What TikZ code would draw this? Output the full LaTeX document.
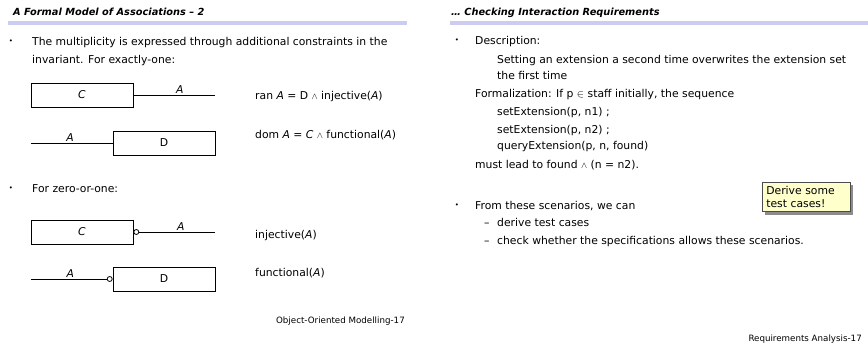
\documentclass[tikz,border=0pt]{standalone}
\usepackage{fontspec}
\setmainfont{DejaVu Sans}
\usepackage{amsmath}
\usetikzlibrary{positioning,shadows}

\definecolor{barlila}{RGB}{204,204,240}
\definecolor{noteyellow}{RGB}{255,255,204}

\tikzset{
  txt/.style={anchor=base west,inner sep=0pt,font=\fontsize{10.8}{13}\selectfont},
  ttl/.style={anchor=base west,inner sep=0pt,font=\fontsize{9.8}{12}\selectfont\bfseries\itshape},
  foot/.style={anchor=base east,inner sep=0pt,font=\fontsize{8.7}{10}\selectfont},
  bull/.style={inner sep=0pt,font=\fontsize{7}{7}\selectfont},
  cls/.style={draw,line width=0.8pt,minimum width=102pt,minimum height=24pt,inner sep=0pt,font=\fontsize{10.8}{13}\selectfont},
  opt/.style={draw,circle,line width=0.8pt,fill=white,minimum size=5pt,inner sep=0pt},
  assoc/.style={line width=0.8pt},
  role/.style={above,inner sep=1.5pt,font=\fontsize{10.8}{13}\selectfont\itshape},
  note/.style={draw=black!70,fill=noteyellow,line width=0.6pt,text width=80pt,align=left,
    inner sep=4pt,font=\fontsize{10.8}{13}\selectfont,
    drop shadow={shadow xshift=3pt,shadow yshift=-3pt,fill=black!45,opacity=1}}
}

\begin{document}
\begin{tikzpicture}[x=1pt,y=-1pt]
\useasboundingbox (0,0) rectangle (868,350);
\fill[white] (0,0) rectangle (868,350);
% left slide
\node[ttl] (ttlL) at (13,16) {A Formal Model of Associations -- 2};
\fill[barlila] (8,21) rectangle (407,25);
\node[bull] (b1) at (11,42) {\textbullet};
\node[txt] (p1) at (32,45.5) {The multiplicity is expressed through additional constraints in the};
\node[txt] (p1b) at (32,63.5) {invariant. For exactly-one:};
% exactly-one, C side
\node[cls] (C1) at (82,95) {\textit{C}};
\coordinate (e1) at (215,95);
\draw[assoc] (C1.east) -- (e1) node[role,pos=0.57] (r1) {A};
\node[txt] (f1) at (255,99.5) {ran \textit{A} = D {\small$\wedge$} injective(\textit{A})};
% exactly-one, D side
\node[cls] (D1) at (164,143) {D};
\coordinate (s2) at (31,143);
\draw[assoc] (s2) -- (D1.west) node[role,pos=0.48] (r2) {A};
\node[txt] (f2) at (255,138.5) {dom \textit{A} = \textit{C} {\small$\wedge$} functional(\textit{A})};
\node[bull] (b2) at (11,189) {\textbullet};
\node[txt] (p2) at (32,192.5) {For zero-or-one:};
% zero-or-one, C side
\node[cls] (C2) at (82,232) {\textit{C}};
\node[opt,right=0pt of C2.east] (o1) {};
\coordinate (e3) at (215,232);
\draw[assoc] (o1.east) -- (e3) node[role,pos=0.55] (r3) {A};
\node[txt] (f3) at (255,238.5) {injective(\textit{A})};
% zero-or-one, D side
\node[cls] (D2) at (164,279) {D};
\node[opt,left=0pt of D2.west] (o2) {};
\coordinate (s4) at (31,279);
\draw[assoc] (s4) -- (o2.west) node[role,pos=0.52] (r4) {A};
\node[txt] (f4) at (255,276.5) {functional(\textit{A})};
\node[foot] (ftL) at (405,323) {Object-Oriented Modelling-17};
% right slide
\node[ttl] (ttlR) at (451,16) {\dots\ Checking Interaction Requirements};
\fill[barlila] (450,21) rectangle (868,25);
\node[bull] (b3) at (457,41) {\textbullet};
\node[txt] (q1) at (475,44.5) {Description:};
\node[txt] (q2) at (497,63.5) {Setting an extension a second time overwrites the extension set};
\node[txt] (q3) at (497,80) {the first time};
\node[txt] (q4) at (475,97.5) {Formalization: If p $\in$ staff initially, the sequence};
\node[txt] (q5) at (497,116) {setExtension(p, n1) ;};
\node[txt] (q6) at (497,133.5) {setExtension(p, n2) ;};
\node[txt] (q7) at (497,150) {queryExtension(p, n, found)};
\node[txt] (q8) at (475,168.5) {must lead to found {\small$\wedge$} (n = n2).};
\node[bull] (b4) at (457,206) {\textbullet};
\node[txt] (q9) at (475,209.5) {From these scenarios, we can};
\node[txt] (d1) at (484,226.5) {--};
\node[txt] (q10) at (497,226.5) {derive test cases};
\node[txt] (d2) at (484,244) {--};
\node[txt] (q11) at (497,244) {check whether the specifications allows these scenarios.};
\node[note,anchor=north west] (tip) at (762,182) {Derive some test cases!};
\node[foot] (ftR) at (862,341) {Requirements Analysis-17};
\end{tikzpicture}
\end{document}
